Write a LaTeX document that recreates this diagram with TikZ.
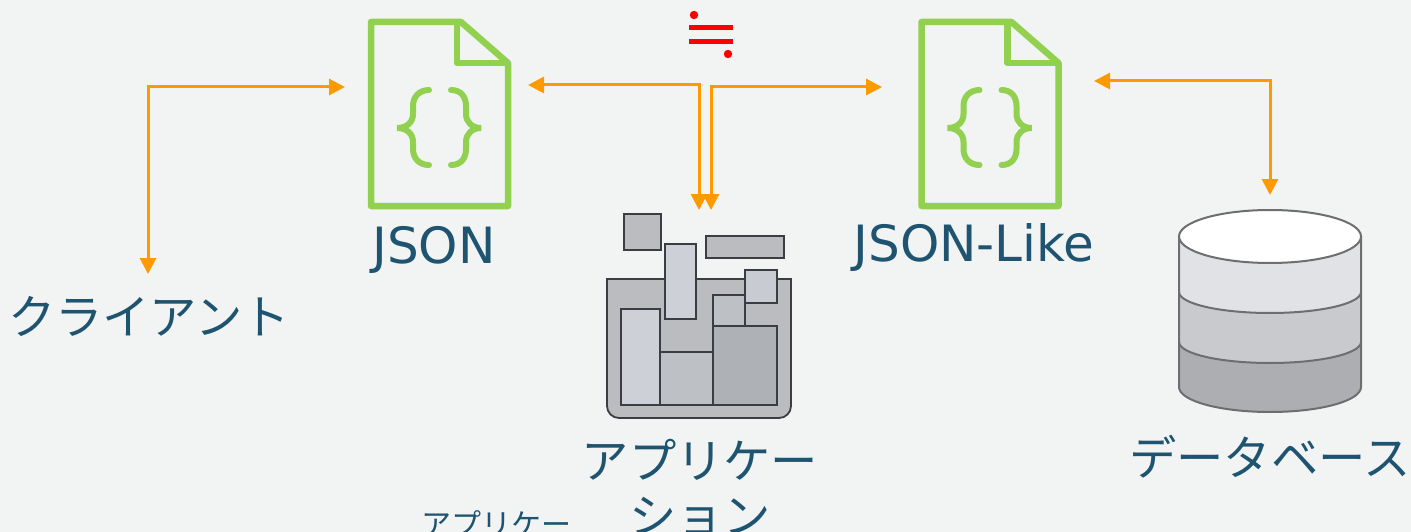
\documentclass[tikz,border=0pt]{standalone}
\usepackage{fontspec}
\setmainfont{DejaVu Sans}
\newfontfamily\cjk{Noto Sans CJK JP}
\usetikzlibrary{arrows.meta}
\definecolor{bgcol}{HTML}{F2F4F4}
\definecolor{txtcol}{HTML}{1F5470}
\definecolor{doccol}{HTML}{92D050}
\definecolor{arrowcol}{HTML}{FF9900}
\definecolor{boxline}{HTML}{3A3D42}
\definecolor{dbline}{HTML}{6D6E70}
\definecolor{basketcol}{HTML}{BABCC0}
\definecolor{boxlight}{HTML}{CDD0D6}
\definecolor{boxmid}{HTML}{BDC0C4}
\definecolor{boxdark}{HTML}{AEB1B5}
\definecolor{bandone}{HTML}{E0E2E5}
\definecolor{bandtwo}{HTML}{C8CACD}
\definecolor{bandthree}{HTML}{ACAEB2}
\tikzset{
    label/.style={text=txtcol,font=\fontsize{50}{54}\selectfont,inner sep=0pt},
    jplabel/.style={text=txtcol,font=\cjk\fontsize{47.3}{55}\selectfont,inner sep=0pt,align=center},
    link/.style={draw=arrowcol,line width=3pt,{Triangle[length=16pt,width=16pt]}-{Triangle[length=16pt,width=16pt]}},
    appbox/.style={draw=boxline,line width=1.8pt},
    dbband/.style={draw=dbline,line width=2pt},
    docicon/.pic={
        \draw[doccol,line width=6.5pt,line join=round]
            (2,2) -- (92,2) -- (139,43) -- (139,186) -- (2,186) -- cycle;
        \draw[doccol,line width=6.5pt,line join=round] (88,2) -- (88,43) -- (139,43);
        \draw[doccol,line width=6pt,line cap=round]
            (60,70) .. controls (50,70) and (44,77) .. (44,86) -- (44,94)
            .. controls (44,102) and (38,108) .. (28,108)
            .. controls (38,108) and (44,114) .. (44,122) -- (44,129)
            .. controls (44,138) and (50,145) .. (60,145);
        \draw[doccol,line width=6pt,line cap=round]
            (82,70) .. controls (92,70) and (97,77) .. (97,86) -- (97,94)
            .. controls (97,102) and (103,108) .. (112,108)
            .. controls (103,108) and (97,114) .. (97,122) -- (97,129)
            .. controls (97,138) and (92,145) .. (82,145);
    }
}
\begin{document}
\begin{tikzpicture}[x=1pt,y=-1pt]
    \useasboundingbox (0,0) rectangle (1411,532);
    \fill[bgcol] (0,0) rectangle (1411,532);

    % documents
    \pic at (369,20) {docicon};
    \pic at (919.5,20) {docicon};

    % approximately equal sign
    \fill[red] (694,15) circle (4.2);
    \fill[red] (728,54) circle (4.2);
    \fill[red] (689,25) rectangle (733,30);
    \fill[red] (689,39.5) rectangle (733,44.5);

    % application
    \draw[appbox,fill=basketcol] (607,279) -- (791,279) -- (791,406)
        arc (0:90:12) -- (619,418) arc (90:180:12) -- cycle;
    \draw[appbox,fill=boxlight] (621,309) rectangle (660,405);
    \draw[appbox,fill=boxmid] (660,352) rectangle (713,405);
    \draw[appbox,fill=boxdark] (713,326) rectangle (777,405);
    \draw[appbox,fill=boxmid] (713,295) rectangle (745,326);
    \draw[appbox,fill=boxlight] (665,244) rectangle (696,319);
    \draw[appbox,fill=boxlight!70!boxmid] (745,270) rectangle (777,303);
    \draw[appbox,fill=basketcol] (624,214) rectangle (661,250);
    \draw[appbox,fill=basketcol] (706,236) rectangle (784,258);

    % database
    \fill[bandthree] (1179,236) -- (1179,387) arc (180:0:91 and 25) -- (1361,236) -- cycle;
    \fill[bandtwo] (1179,236) -- (1179,342) arc (180:0:91 and 21) -- (1361,236) -- cycle;
    \fill[bandone] (1179,236) -- (1179,292) arc (180:0:91 and 21) -- (1361,236) -- cycle;
    \draw[dbband] (1179,292) arc (180:0:91 and 21);
    \draw[dbband] (1179,342) arc (180:0:91 and 21);
    \draw[dbband] (1179,236) -- (1179,387) arc (180:0:91 and 25) -- (1361,236);
    \draw[dbband,fill=white] (1270,236.5) ellipse (91 and 26.5);

    % labels
    \node[label] (json) at (434,250) {JSON};
    \node[label] (jsonlike) at (974,248) {JSON-Like};
    \node[jplabel] (client) at (149,316) {クライアント};
    \node[jplabel] (app) at (700,488) {アプリケー\\ション};
    \node[jplabel] (db) at (1270,457) {データベース};
    \node[jplabel,font=\cjk\fontsize{30}{34}\selectfont] (appsmall) at (496,524) {アプリケー};

    % connectors
    \coordinate (clienttop) at (148,274);
    \coordinate (jsonin) at (345,87);
    \coordinate (jsonout) at (528,85);
    \coordinate (appleft) at (699,210);
    \coordinate (appright) at (711,210);
    \coordinate (likein) at (882,87);
    \coordinate (likeout) at (1094,81);
    \coordinate (dbtop) at (1270,195);
    \draw[link] (clienttop) |- (jsonin);
    \draw[link] (jsonout) -| (appleft);
    \draw[link] (likein) -| (appright);
    \draw[link] (likeout) -| (dbtop);
\end{tikzpicture}
\end{document}
